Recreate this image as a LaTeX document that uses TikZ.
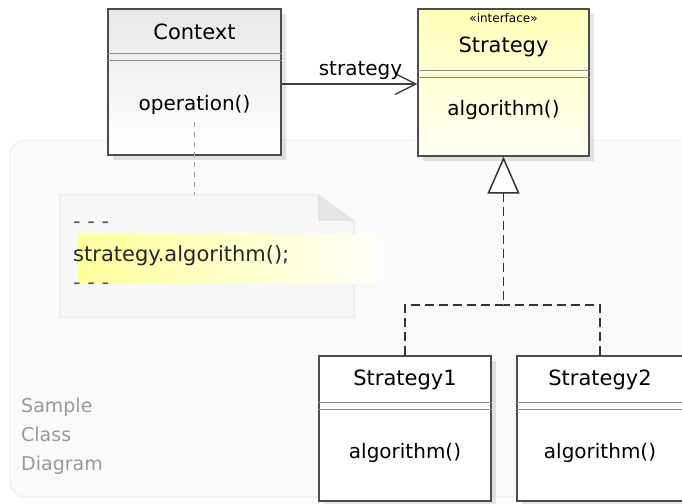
\documentclass[tikz,border=0pt]{standalone}
\usepackage{fontspec}
\setmainfont{DejaVu Sans}
\usetikzlibrary{arrows.meta, positioning, shadows}

\begin{document}
\begin{tikzpicture}[
      x=1pt, y=-1pt,
      cls/.style={rectangle, draw=black!70, line width=1.4pt, minimum width=172pt, minimum height=146pt, inner sep=0pt, fill=white,
        drop shadow={shadow xshift=5pt, shadow yshift=-5pt, opacity=0.1, fill=black}},
      ctxfill/.style={top color=black!9, bottom color=white},
      ifcfill/.style={top color=yellow!28, bottom color=yellow!4},
      title/.style={font=\fontsize{21}{24}\selectfont},
      member/.style={font=\fontsize{20}{24}\selectfont},
      stereo/.style={font=\fontsize{12}{14}\selectfont},
      code/.style={font=\fontsize{21}{24}\selectfont, anchor=west, inner sep=0pt},
      sep/.style={draw=black!45, line width=0.9pt},
      assoc/.style={-{Straight Barb[length=21pt, width=21pt, line width=1.3pt]}, line width=1.4pt, draw=black!75},
      realize/.style={-{Triangle[open, length=37pt, width=32pt, fill=white]}, dash pattern=on 9pt off 5pt, line width=1.5pt, draw=black!80},
      dashline/.style={dash pattern=on 9pt off 5pt, line width=1.5pt, draw=black!80},
      anchorline/.style={dash pattern=on 5pt off 5pt, line width=1pt, draw=black!40}
    ]
    \clip (0,0) rectangle (682,503);

    % background panel
    \draw[fill=black!2, draw=black!7, line width=1pt, rounded corners=16pt] (10,140) rectangle (720,497);
    \node[anchor=north west, align=left, text=black!40, inner sep=0pt,
      font=\fontsize{19}{29}\selectfont] (caption) at (21,398) {Sample\\Class\\Diagram};

    % note with folded corner
    \node[minimum width=294pt, minimum height=122pt, inner sep=0pt] (note) at (207,256) {};
    \draw[fill=black!3, draw=black!9, line width=1pt]
      (note.north west) -- ([xshift=-36pt]note.north east) -- ([yshift=-26pt]note.north east)
      -- (note.south east) -- (note.south west) -- cycle;
    \fill[black!10] ([xshift=-36pt]note.north east) -- ([xshift=-36pt, yshift=-26pt]note.north east) -- ([yshift=-26pt]note.north east) -- cycle;
    \shade[left color=yellow!40, right color=yellow!3] (78,234) rectangle (377,283);
    \node[code, text=black!65] (dots1) at (73,225) {- - -};
    \node[code, text=black!85] (call) at (73,256) {strategy.algorithm();};
    \node[code, text=black!65] (dots2) at (73,286) {- - -};

    % classes
    \node[cls, ctxfill, minimum width=173pt] (ctx) at (194.5,82) {};
    \node[title] (ctxname) at (194.5,32) {Context};
    \node[member] (op) at (194.5,105) {operation()};

    \node[cls, ifcfill, minimum width=171pt, minimum height=147pt] (ifc) at (503.5,82.5) {};
    \node[stereo] (ifcstereo) at (503.5,18) {«interface»};
    \node[title] (ifcname) at (503.5,47) {Strategy};
    \node[member] (ifcop) at (503.5,110) {algorithm()};

    \node[cls, minimum height=145pt] (s1) at (405,428.5) {};
    \node[title] (s1name) at (405,380) {Strategy1};
    \node[member] (s1op) at (405,453) {algorithm()};

    \node[cls, minimum width=166pt, minimum height=145pt] (s2) at (600,428.5) {};
    \node[title] (s2name) at (600,380) {Strategy2};
    \node[member] (s2op) at (600,453) {algorithm()};

    % compartment lines
    \foreach \b/\y in {ctx/53, ctx/60, ifc/70, ifc/77, s1/402, s1/409, s2/402, s2/409}
      \draw[sep] (\b.west |- 0,\y) -- (\b.east |- 0,\y);

    % connectors
    \draw[assoc] (ctx.east |- 0,84) -- node[member, above=0pt, xshift=11pt] {strategy} (ifc.west |- 0,84);
    \draw[anchorline] ([yshift=-4pt]op.south) -- (op.south |- note.north);

    \coordinate (join) at (ifc.south |- 0,305);
    \draw[realize] (s1.north) |- (join) -- (ifc.south);
    \draw[dashline] (s2.north) |- (join);
  \end{tikzpicture}
\end{document}
